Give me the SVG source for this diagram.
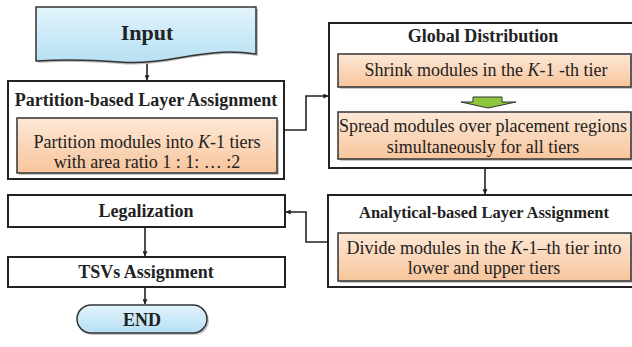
<svg xmlns="http://www.w3.org/2000/svg" width="632" height="347" viewBox="0 0 632 347">
<style>
  text { font-family: "Liberation Serif", "Times New Roman", serif; fill: #222; }
  .title { font-weight: bold; font-size: 18px; text-anchor: middle; }
  .body { font-size: 18px; text-anchor: middle; }
  .outer { fill: #fff; stroke: #222; stroke-width: 2; }
  .inner { fill: url(#orange); stroke: #333; stroke-width: 1.5; }
  .shadow { fill: #c8c8c8; }
  .conn { fill: none; stroke: #222; stroke-width: 1.6; }
</style>
<defs>
  <linearGradient id="orange" x1="0" y1="0" x2="0" y2="1">
    <stop offset="0" stop-color="#fde8d6"/>
    <stop offset="1" stop-color="#f8c59c"/>
  </linearGradient>
  <linearGradient id="blue" x1="0" y1="0" x2="0" y2="1">
    <stop offset="0" stop-color="#e2f4fc"/>
    <stop offset="1" stop-color="#b6e0f3"/>
  </linearGradient>
  <marker id="arr" viewBox="0 0 8 8" refX="7.5" refY="4" markerWidth="5" markerHeight="5" orient="auto" markerUnits="userSpaceOnUse">
    <path d="M0,0 L8,4 L0,8 Z" fill="#222"/>
  </marker>
</defs>

<g id="connectors">
  <path class="conn" d="M147,60 V80" marker-end="url(#arr)"/>
  <path class="conn" d="M284,130 H306 V96 H328" marker-end="url(#arr)"/>
  <path class="conn" d="M485,168 V194" marker-end="url(#arr)"/>
  <path class="conn" d="M328,242 H306 V212 H286" marker-end="url(#arr)"/>
  <path class="conn" d="M145,227 V256" marker-end="url(#arr)"/>
  <path class="conn" d="M145,287 V304" marker-end="url(#arr)"/>
</g>

<g id="input">
  <path d="M38,9 H258 V56 C200,48 170,68 120,64 C80,61 55,62 38,63 Z" fill="#bdbdbd"/>
  <path d="M36,7 H256 V54 C200,46 170,66 120,62 C80,59 55,60 36,61 Z" fill="url(#blue)" stroke="#333" stroke-width="1.5"/>
  <text x="147" y="40" class="title" style="font-size:22px">Input</text>
</g>

<g id="partition">
  <rect x="8" y="81" width="276" height="98" class="outer"/>
  <text x="146" y="106" class="title">Partition-based Layer Assignment</text>
  <rect x="19" y="120" width="260" height="55" class="shadow"/>
  <rect x="17" y="118" width="260" height="55" class="inner"/>
  <text x="147" y="148" class="body">Partition modules into <tspan font-style="italic">K</tspan>-1 tiers</text>
  <text x="147" y="168" class="body">with area ratio 1 : 1: …  :2</text>
</g>

<g id="global">
  <rect x="329" y="23" width="310" height="145" class="outer"/>
  <text x="483" y="42" class="title">Global Distribution</text>
  <rect x="340" y="56" width="293" height="33" class="shadow"/>
  <rect x="338" y="54" width="293" height="33" class="inner"/>
  <text x="486" y="76" class="body">Shrink modules in the <tspan font-style="italic">K</tspan>-1 -th tier</text>
  <path d="M473,97 H502 V102 H516 L488,108 L461,102 H473 Z" fill="#8cc63f" stroke="#333" stroke-width="1"/>
  <rect x="340" y="114" width="293" height="47" class="shadow"/>
  <rect x="338" y="112" width="293" height="47" class="inner"/>
  <text x="483" y="132" class="body">Spread modules over placement regions</text>
  <text x="483" y="153" class="body">simultaneously for all tiers</text>
</g>

<g id="analytical">
  <rect x="328" y="195" width="310" height="92" class="outer"/>
  <text x="484" y="218" class="title" style="font-size:16.5px">Analytical-based Layer Assignment</text>
  <rect x="340" y="235" width="293" height="48" class="shadow"/>
  <rect x="338" y="233" width="293" height="48" class="inner"/>
  <text x="484" y="254" class="body">Divide modules in the <tspan font-style="italic">K</tspan>-1–th tier into</text>
  <text x="484" y="274" class="body">lower and upper tiers</text>
</g>

<g id="legalization">
  <rect x="8" y="195" width="277" height="32" class="outer"/>
  <text x="146" y="217" class="title">Legalization</text>
</g>

<g id="tsvs">
  <rect x="8" y="257" width="277" height="30" class="outer"/>
  <text x="146" y="278" class="title">TSVs Assignment</text>
</g>

<g id="end">
  <rect x="79" y="307" width="130" height="28" rx="14" fill="#c8c8c8"/>
  <rect x="77" y="305" width="130" height="28" rx="14" fill="url(#blue)" stroke="#333" stroke-width="1.5"/>
  <text x="142" y="326" class="title">END</text>
</g>
</svg>
